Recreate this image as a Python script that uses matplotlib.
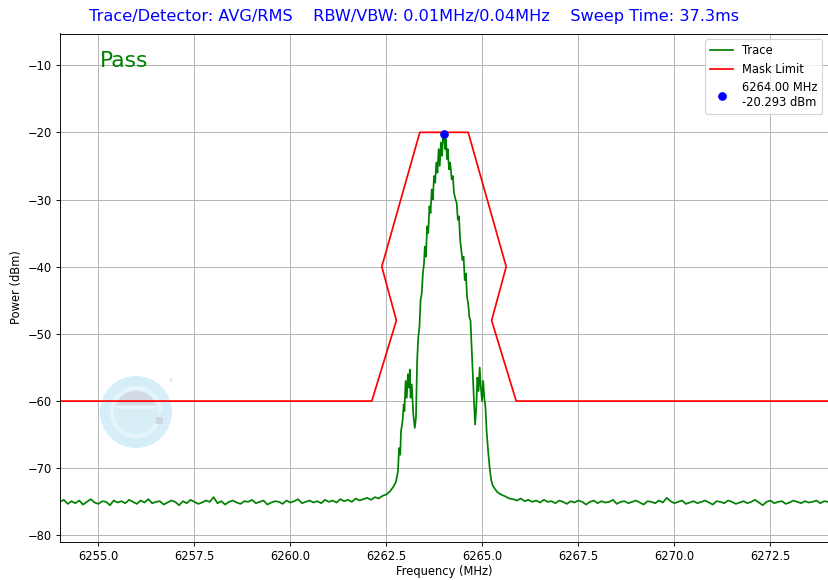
import numpy as np
import matplotlib
matplotlib.use("Agg")
import matplotlib.pyplot as plt
import matplotlib.patches as patches
from matplotlib.transforms import IdentityTransform

# noise floor left of the carrier, 6254.0 .. 6262.5 MHz every 0.1 MHz
floor_left_start, floor_left_stop = 6254.0, 6262.5
floor_left = [
    -75.0, -74.7, -75.3, -74.9, -75.2, -74.8, -75.4, -75.0, -74.6, -75.1,
    -75.3, -74.9, -75.0, -75.5, -74.8, -75.1, -74.9, -75.2, -74.7, -75.0,
    -75.3, -74.8, -75.1, -74.6, -75.2, -75.0, -74.9, -75.4, -75.1, -74.8,
    -75.0, -75.5, -74.9, -75.2, -74.7, -75.0, -75.3, -75.1, -74.8, -75.0,
    -74.3, -75.2, -74.9, -75.4, -75.0, -74.8, -75.1, -75.3, -74.9, -75.0,
    -74.7, -75.2, -75.0, -74.8, -75.4, -75.1, -74.9, -75.0, -75.3, -74.8,
    -75.1, -74.9, -74.6, -75.2, -75.0, -74.8, -75.1, -74.9, -75.2, -74.7,
    -75.0, -74.8, -75.1, -74.6, -74.9, -74.7, -75.0, -74.5, -74.8, -74.6,
    -74.4, -74.7, -74.3, -74.5, -74.1, -73.9,
]

# carrier region
peak_freq = [
    6262.60, 6262.70, 6262.75, 6262.80, 6262.83, 6262.86, 6262.88, 6262.92,
    6262.95, 6262.97, 6263.00, 6263.03, 6263.06, 6263.09, 6263.11, 6263.13,
    6263.16, 6263.20, 6263.24, 6263.27, 6263.30, 6263.33, 6263.36, 6263.39,
    6263.42, 6263.45, 6263.48, 6263.50, 6263.53, 6263.56, 6263.59, 6263.62,
    6263.65, 6263.68, 6263.71, 6263.74, 6263.77, 6263.80, 6263.83, 6263.86,
    6263.89, 6263.92, 6263.95, 6263.97, 6264.00, 6264.03, 6264.05, 6264.08,
    6264.10, 6264.13, 6264.16, 6264.20, 6264.23, 6264.26, 6264.30, 6264.33,
    6264.36, 6264.39, 6264.42, 6264.45, 6264.48, 6264.51, 6264.54, 6264.57,
    6264.60, 6264.63, 6264.66, 6264.69, 6264.72, 6264.75, 6264.78, 6264.81,
    6264.84, 6264.87, 6264.90, 6264.93, 6264.96, 6264.99, 6265.02, 6265.05,
    6265.08, 6265.11, 6265.15, 6265.19, 6265.23, 6265.27, 6265.32, 6265.38,
    6265.45, 6265.52, 6265.60, 6265.70,
]
peak_dbm = [
    -73.4, -72.6, -72.0, -70.5, -67.0, -68.0, -64.5, -63.0,
    -60.5, -61.5, -57.0, -59.5, -56.0, -58.0, -55.3, -59.5,
    -57.5, -62.0, -64.0, -62.5, -54.0, -50.5, -49.0, -45.0,
    -44.0, -41.0, -39.5, -37.0, -38.5, -34.0, -35.0, -31.0,
    -32.0, -28.5, -30.0, -26.5, -27.5, -24.5, -26.0, -22.5,
    -25.0, -21.5, -23.5, -21.0, -20.293, -22.5, -21.0, -24.0,
    -22.5, -25.5, -24.5, -27.0, -26.5, -29.0, -30.0, -30.5,
    -33.0, -32.5, -36.0, -37.5, -39.0, -38.5, -42.0, -41.0,
    -44.5, -45.5, -47.5, -48.0, -52.0, -56.0, -60.0, -63.5,
    -61.0, -56.5, -58.5, -55.0, -58.0, -60.0, -57.0, -59.5,
    -61.0, -64.5, -67.5, -70.0, -71.8, -72.6, -73.0, -73.5,
    -73.8, -74.0, -74.2, -74.5,
]

# noise floor right of the carrier, 6265.8 .. 6274.0 MHz every 0.1 MHz
floor_right_start, floor_right_stop = 6265.8, 6274.0
floor_right = [
    -74.6, -74.8, -74.5, -74.9, -74.7, -75.0, -74.8, -75.1, -74.7, -75.0,
    -74.9, -75.2, -74.8, -75.0, -75.3, -74.9, -75.1, -74.8, -75.0, -75.4,
    -75.0, -74.8, -75.2, -74.9, -75.1, -75.0, -74.7, -75.3, -75.0, -74.9,
    -75.2, -75.0, -74.8, -75.1, -75.4, -74.9, -75.0, -75.2, -74.8, -75.1,
    -74.4, -74.9, -75.2, -75.0, -74.8, -75.3, -75.1, -74.9, -75.2, -75.0,
    -74.8, -75.1, -75.4, -74.9, -75.0, -75.2, -74.8, -75.0, -75.3, -75.1,
    -74.9, -75.2, -75.0, -74.7, -75.1, -75.5, -75.0, -74.8, -75.2, -75.0,
    -74.9, -75.3, -75.1, -74.8, -75.0, -75.2, -74.9, -75.1, -75.0, -74.8,
    -75.2, -74.9, -75.0,
]

mask_freq = [6254.0, 6262.12, 6262.76, 6262.38, 6263.37, 6264.63,
             6265.62, 6265.24, 6265.88, 6274.0]
mask_dbm = [-60, -60, -48, -40, -20, -20, -40, -48, -60, -60]

marker_freq = 6264.00
marker_dbm = -20.293

title = ("Trace/Detector: AVG/RMS    RBW/VBW: 0.01MHz/0.04MHz    "
         "Sweep Time: 37.3ms")

fl_x = np.linspace(floor_left_start, floor_left_stop, len(floor_left))
fr_x = np.linspace(floor_right_start, floor_right_stop, len(floor_right))
trace_freq = np.concatenate([fl_x, peak_freq, fr_x])
trace_dbm = np.concatenate([floor_left, peak_dbm, floor_right])

DPI = 83
fig = plt.figure(figsize=(828 / DPI, 580 / DPI), dpi=DPI)
ax = fig.add_axes([60 / 828, 38.5 / 580, 768 / 828, 508 / 580])

ax.plot(trace_freq, trace_dbm, color="green", label="Trace")
ax.plot(mask_freq, mask_dbm, color="red", label="Mask Limit")
ax.plot([marker_freq], [marker_dbm], "o", color="blue", markersize=6.5,
        label=f"{marker_freq:.2f} MHz\n{marker_dbm:.3f} dBm", zorder=5)

ax.set_xlim(6254, 6274)
ax.set_ylim(-80.9, -5.29)
ax.set_xticks([6255.0, 6257.5, 6260.0, 6262.5, 6265.0, 6267.5, 6270.0, 6272.5])
ax.xaxis.set_major_formatter(matplotlib.ticker.FormatStrFormatter("%.1f"))
ax.grid(True)
ax.set_xlabel("Frequency (MHz)", labelpad=2)
ax.set_ylabel("Power (dBm)")
ax.legend(loc="upper right")
ax.text(0.052, 0.965, "Pass", transform=ax.transAxes, color="green",
        fontsize=19, va="top", ha="left")

fig.suptitle(title, color="blue", fontsize=14, y=0.985)

# faint logo watermark, drawn in pixel coordinates
cx, cy = 136, 580 - 412
pix = IdentityTransform()
ax.add_patch(patches.Circle((cx, cy), 36, transform=pix, facecolor="#d5eef8",
                            edgecolor="none", zorder=1))
ax.add_patch(patches.Wedge((cx, cy), 26, 0, 330, width=4, transform=pix,
                           facecolor="#e6f5fa", edgecolor="none", zorder=1))
ax.add_patch(patches.Circle((cx, cy), 21, transform=pix, facecolor="#d8eef7",
                            edgecolor="none", zorder=1))
a0 = np.arcsin(7 / 21)
t = np.linspace(a0, np.pi - a0, 40)
seg = np.column_stack([cx + 21 * np.cos(t), cy + 21 * np.sin(t)])
ax.add_patch(patches.Polygon(seg, closed=True, transform=pix,
                             facecolor="#d2dbe5", edgecolor="none", zorder=1))
ax.add_patch(patches.Rectangle((cx - 20, cy + 3), 40, 3, transform=pix,
                               facecolor="#e6f3f9", edgecolor="none", zorder=1))
ax.add_patch(patches.Rectangle((cx + 20, cy - 12), 7, 7, transform=pix,
                               facecolor="#cfd7df", edgecolor="none", zorder=1))
ax.add_patch(patches.Circle((cx + 35, cy + 32), 2, transform=pix,
                            facecolor="#e4edf3", edgecolor="none", zorder=1))

fig.savefig("out.png", dpi=DPI)
